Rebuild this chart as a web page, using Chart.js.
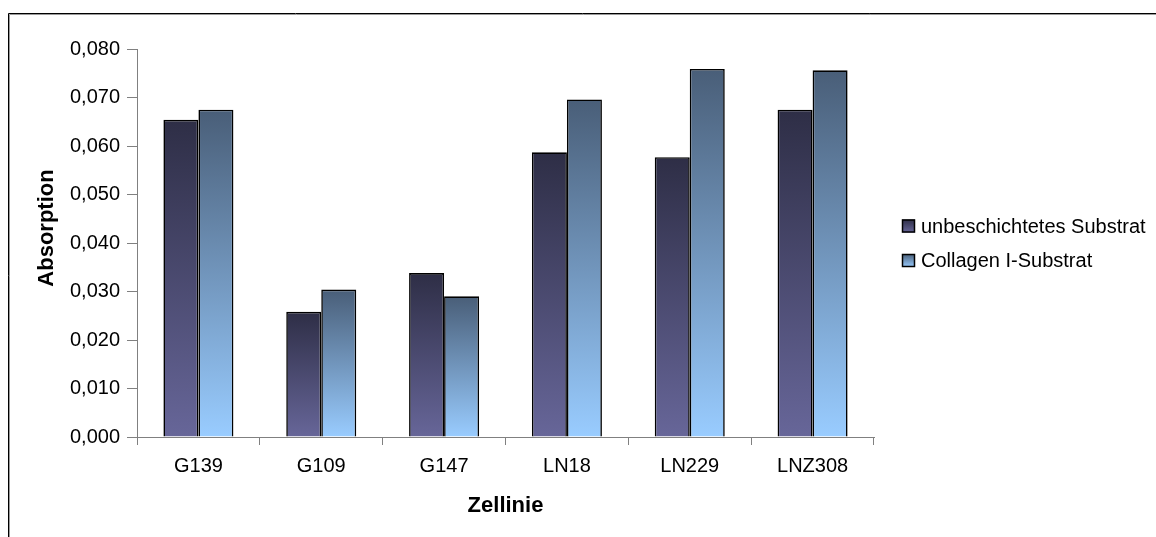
<!DOCTYPE html>
<html>
<head>
<meta charset="utf-8">
<script src="https://cdn.jsdelivr.net/npm/chart.js@4/dist/chart.umd.min.js"></script>
<style>
  html, body { margin: 0; padding: 0; background: #fff; }
  #wrap { position: relative; width: 1156px; height: 537px; }
</style>
</head>
<body>
<div id="wrap"><canvas id="c"></canvas></div>
<script>
const categories = ['G139', 'G109', 'G147', 'LN18', 'LN229', 'LNZ308'];
const seriesNames = ['unbeschichtetes Substrat', 'Collagen I-Substrat'];
const uncoated = [0.0654, 0.0258, 0.0338, 0.0587, 0.0577, 0.0675];
const collagen = [0.0675, 0.0304, 0.0290, 0.0696, 0.0759, 0.0756];
const yTickLabels = ['0,000', '0,010', '0,020', '0,030', '0,040', '0,050', '0,060', '0,070', '0,080'];
const xTitle = 'Zellinie';
const yTitle = 'Absorption';

const FONT = "'Liberation Sans', Arial, sans-serif";
const gradStops = [
  ['#2e2e46', '#676699'],
  ['#495e78', '#99ccff']
];

function barGradient(c, di) {
  const chart = c.chart;
  const stops = gradStops[di];
  if (c.type !== 'data' || !chart.scales || !chart.scales.y) return stops[1];
  const ys = chart.scales.y;
  const top = ys.getPixelForValue(c.raw);
  const bot = ys.getPixelForValue(0);
  if (!isFinite(top) || !isFinite(bot) || top === bot) return stops[1];
  const g = chart.ctx.createLinearGradient(0, top, 0, bot);
  g.addColorStop(0, stops[0]);
  g.addColorStop(1, stops[1]);
  return g;
}

const framePlugin = {
  id: 'frame',
  beforeDraw(chart) {
    const ctx = chart.ctx;
    ctx.save();
    ctx.fillStyle = '#fff';
    ctx.fillRect(0, 0, chart.width, chart.height);
    ctx.strokeStyle = '#000';
    ctx.lineWidth = 1;
    ctx.beginPath();
    ctx.moveTo(8.5, chart.height + 2); ctx.lineTo(8.5, 13.5); ctx.lineTo(chart.width + 2, 13.5);
    ctx.stroke();
    ctx.strokeStyle = '#9a9a9a';
    ctx.beginPath();
    ctx.moveTo(9.5, chart.height + 2); ctx.lineTo(9.5, 14.5); ctx.lineTo(chart.width + 2, 14.5);
    ctx.stroke();
    ctx.restore();
  },
  afterDraw(chart) {
    const ctx = chart.ctx;
    ctx.save();
    // y axis title
    ctx.translate(47, 228);
    ctx.rotate(-Math.PI / 2);
    ctx.font = 'bold 22px ' + FONT;
    ctx.fillStyle = '#000';
    ctx.textAlign = 'center';
    ctx.textBaseline = 'middle';
    ctx.fillText(yTitle, 0, 0);
    ctx.restore();
    // legend
    ctx.save();
    ctx.font = '20px ' + FONT;
    ctx.textBaseline = 'middle';
    ctx.textAlign = 'left';
    chart.data.datasets.forEach((ds, i) => {
      const cy = 226 + i * 34.5;
      const g = ctx.createLinearGradient(0, cy - 6.5, 0, cy + 6.5);
      g.addColorStop(0, gradStops[i][0]);
      g.addColorStop(1, gradStops[i][1]);
      ctx.fillStyle = g;
      ctx.fillRect(902, cy - 6.5, 13, 13);
      ctx.strokeStyle = '#000';
      ctx.lineWidth = 1.5;
      ctx.strokeRect(902.5, cy - 6, 12, 12);
      ctx.fillStyle = '#000';
      ctx.fillText(ds.label, 921, cy + 1);
    });
    ctx.restore();
  }
};

new Chart(document.getElementById('c'), {
  type: 'bar',
  data: {
    labels: categories,
    datasets: [
      { label: seriesNames[0], data: uncoated, backgroundColor: c => barGradient(c, 0),
        borderColor: '#000', borderWidth: 1.6, categoryPercentage: 0.57, barPercentage: 1.0 },
      { label: seriesNames[1], data: collagen, backgroundColor: c => barGradient(c, 1),
        borderColor: '#000', borderWidth: 1.6, categoryPercentage: 0.57, barPercentage: 1.0 }
    ]
  },
  options: {
    responsive: true,
    maintainAspectRatio: false,
    animation: false,
    events: [],
    layout: { padding: { top: 49, right: 282, bottom: 0, left: 0 } },
    plugins: {
      legend: { display: false },
      tooltip: { enabled: false },
      title: { display: false }
    },
    scales: {
      x: {
        grid: { display: true, drawOnChartArea: false, drawTicks: true, tickLength: 8, color: '#808080', offset: true },
        border: { display: true, color: '#808080', width: 1 },
        ticks: { color: '#000', font: { family: FONT, size: 20 }, padding: 9, maxRotation: 0, autoSkip: false },
        title: { display: true, text: xTitle, color: '#000', font: { family: FONT, size: 22, weight: 'bold' },
                 padding: { top: 0, bottom: 18 } },
        afterFit(s) { s.height = 100; }
      },
      y: {
        min: 0, max: 0.08,
        grid: { display: true, drawOnChartArea: false, drawTicks: true, tickLength: 10, color: '#808080' },
        border: { display: true, color: '#808080', width: 1 },
        ticks: { stepSize: 0.01, color: '#000', font: { family: FONT, size: 20 }, padding: 7,
                 callback: (v, i) => yTickLabels[i] },
        afterFit(s) { s.width = 137; }
      }
    }
  },
  plugins: [framePlugin]
});
</script>
</body>
</html>
